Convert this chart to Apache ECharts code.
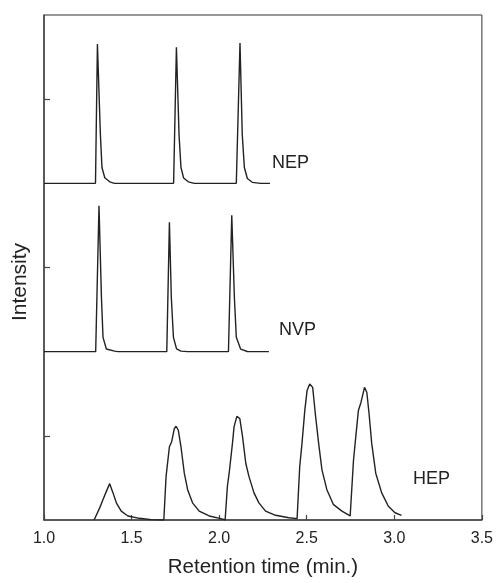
<!DOCTYPE html>
<html>
<head>
<meta charset="utf-8">
<script src="https://cdn.jsdelivr.net/npm/echarts@6/dist/echarts.min.js"></script>
<style>html,body{margin:0;padding:0;background:#fff;}#c{width:496px;height:583px;}</style>
</head>
<body>
<div id="c"></div>
<script>
// Retention time (min.) and intensity (relative units) for each trace
const nepTime = [1.0, 1.294, 1.305, 1.322, 1.331, 1.347, 1.375, 1.403, 1.740, 1.756, 1.771, 1.782, 1.797, 1.824, 1.858, 2.098, 2.119, 2.132, 2.144, 2.161, 2.189, 2.237, 2.290];
const nepIntensity = [0, 0, 0.828, 0.288, 0.094, 0.033, 0.009, 0, 0, 0.808, 0.288, 0.094, 0.032, 0.009, 0, 0, 0.834, 0.288, 0.094, 0.029, 0.006, 0, 0];

const nvpTime = [1.0, 1.295, 1.314, 1.328, 1.337, 1.356, 1.403, 1.422, 1.701, 1.716, 1.727, 1.739, 1.757, 1.782, 1.820, 2.053, 2.072, 2.087, 2.098, 2.123, 2.161, 2.284];
const nvpIntensity = [0, 0, 0.866, 0.320, 0.085, 0.016, 0.003, 0, 0, 0.768, 0.320, 0.085, 0.016, 0.003, 0, 0, 0.811, 0.320, 0.085, 0.015, 0.001, 0];

const hepTime = [1.286, 1.318, 1.337, 1.356, 1.375, 1.394, 1.413, 1.441, 1.479, 1.545, 1.612, 1.684,
  1.697, 1.716, 1.729, 1.744, 1.754, 1.767, 1.782, 1.801, 1.820, 1.848, 1.886, 1.943, 2.010, 2.034,
  2.047, 2.057, 2.076, 2.085, 2.101, 2.118, 2.133, 2.152, 2.170, 2.199, 2.227, 2.265, 2.322, 2.398, 2.445, 2.451,
  2.460, 2.473, 2.489, 2.502, 2.517, 2.534, 2.549, 2.568, 2.587, 2.615, 2.653, 2.701, 2.748,
  2.752, 2.767, 2.780, 2.795, 2.810, 2.830, 2.843, 2.856, 2.871, 2.894, 2.928, 2.966, 3.004, 3.041];
const hepIntensity = [0, 0.072, 0.122, 0.170, 0.216, 0.161, 0.102, 0.053, 0.024, 0.010, 0.002, 0,
  0.259, 0.435, 0.465, 0.543, 0.557, 0.533, 0.435, 0.278, 0.180, 0.102, 0.053, 0.024, 0.008, 0,
  0.200, 0.278, 0.455, 0.553, 0.616, 0.602, 0.500, 0.337, 0.259, 0.161, 0.102, 0.053, 0.028, 0.013, 0.008, 0,
  0.318, 0.455, 0.651, 0.769, 0.808, 0.788, 0.631, 0.455, 0.298, 0.180, 0.091, 0.053, 0.024,
  0.018, 0.355, 0.494, 0.651, 0.700, 0.788, 0.759, 0.631, 0.455, 0.278, 0.161, 0.082, 0.043, 0.028];

const traceNames = ['HEP', 'NVP', 'NEP'];
const xTicks = [1.0, 1.5, 2.0, 2.5, 3.0, 3.5];
const yTickValues = [0.5, 1.5, 2.5];

const traces = [
  { name: 'HEP', t: hepTime, v: hepIntensity, offset: 0 },
  { name: 'NVP', t: nvpTime, v: nvpIntensity, offset: 1 },
  { name: 'NEP', t: nepTime, v: nepIntensity, offset: 2 }
];

const FONT = '"Liberation Sans", Arial, Helvetica, sans-serif';
const chart = echarts.init(document.getElementById('c'));

const series = traces.map(tr => ({
  name: tr.name,
  type: 'line',
  showSymbol: false,
  symbol: 'none',
  smooth: false,
  animation: false,
  lineStyle: { color: '#222', width: 1.4 },
  data: tr.t.map((t, i) => [t, tr.v[i] + tr.offset])
}));

chart.setOption({
  backgroundColor: '#fff',
  animation: false,
  grid: { left: 44, right: 13, top: 15, bottom: 59, show: true, borderColor: '#333', borderWidth: 1 },
  xAxis: {
    type: 'value',
    min: xTicks[0], max: xTicks[xTicks.length - 1], interval: 0.5,
    name: 'Retention time (min.)',
    nameLocation: 'middle', nameGap: 37,
    nameTextStyle: { fontFamily: FONT, fontSize: 20.5, color: '#222' },
    axisLine: { show: true, lineStyle: { color: '#444', width: 1.5 } },
    axisTick: { show: true, inside: true, length: 5, lineStyle: { color: '#444', width: 1.2 } },
    axisLabel: { fontFamily: FONT, fontSize: 16, color: '#222', margin: 11, formatter: v => v.toFixed(1) },
    splitLine: { show: false }
  },
  yAxis: {
    type: 'value',
    min: 0, max: 3, interval: 1,
    axisLine: { show: true, lineStyle: { color: '#444', width: 1.5 } },
    axisTick: { show: true, inside: true, length: 6, customValues: yTickValues, lineStyle: { color: '#444', width: 1.2 } },
    axisLabel: { show: false },
    splitLine: { show: false }
  },
  graphic: [
    { type: 'text', x: 20, y: 282, rotation: Math.PI / 2,
      style: { text: 'Intensity', font: '21px ' + FONT, fill: '#222', align: 'center', verticalAlign: 'middle' } },
    { type: 'text', left: 272, top: 154, style: { text: traceNames[2], font: '18px ' + FONT, fill: '#222' } },
    { type: 'text', left: 279, top: 321, style: { text: traceNames[1], font: '18px ' + FONT, fill: '#222' } },
    { type: 'text', left: 413, top: 470, style: { text: traceNames[0], font: '18px ' + FONT, fill: '#222' } }
  ],
  series: series
});
</script>
</body>
</html>
